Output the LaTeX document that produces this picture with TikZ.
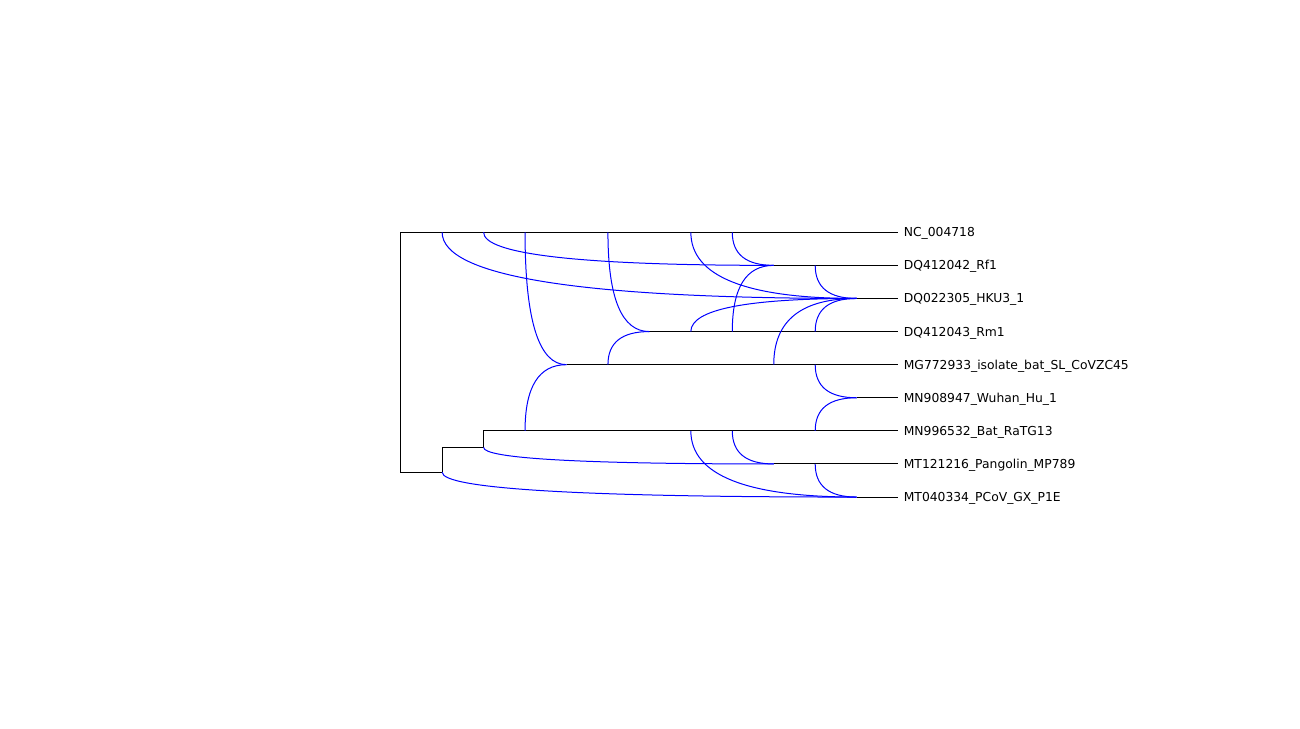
\documentclass[tikz,border=0pt]{standalone}
\usepackage{fontspec}
\setmainfont{DejaVu Sans}
\usepackage{tikz}
\usetikzlibrary{calc}

\begin{document}
\begin{tikzpicture}[
    x=31.09pt, y=-24.825pt,
    tree/.style={draw=black, line width=0.75pt},
    reti/.style={draw=blue, line width=0.75pt,
      to path={.. controls ($(\tikztostart)!0.667!(\tikztostart |- \tikztotarget)$)
        and ($(\tikztotarget)!0.667!(\tikztostart |- \tikztotarget)$) .. (\tikztotarget)}},
    taxon/.style={anchor=west, inner xsep=4.1pt, inner ysep=0pt, text height=6.74pt,
      text depth=0pt, font=\fontsize{9.25}{11}\selectfont}]
  \useasboundingbox (-9.667,-7.018) rectangle (21.696,15.006);
  % taxa
  \foreach \name/\lab [count=\r from 0] in {nc/NC\_004718, rf/DQ412042\_Rf1,
      hku/DQ022305\_HKU3\_1, rm/DQ412043\_Rm1, mg/MG772933\_isolate\_bat\_SL\_CoVZC45,
      wu/MN908947\_Wuhan\_Hu\_1, ratg/MN996532\_Bat\_RaTG13,
      pa/MT121216\_Pangolin\_MP789, pc/MT040334\_PCoV\_GX\_P1E}
    \node[taxon] (\name) at (12,\r) {\lab};
  % tree nodes
  \coordinate (root) at (0,3.625);
  \coordinate (v1) at (1,7.25);
  \coordinate (v2) at (2,6.5);
  % reticulation nodes
  \coordinate (hRf) at (9,1);
  \coordinate (hHKU) at (11,2);
  \coordinate (hRm) at (6,3);
  \coordinate (hMG) at (4,4);
  \coordinate (hWu) at (11,5);
  \coordinate (hPa) at (9,7);
  \coordinate (hPC) at (11,8);
  % branch points on the lines
  \foreach \c in {1,2,3,5,7,8} \coordinate (a\c) at (\c,0);
  \coordinate (b10) at (10,1);
  \foreach \c in {7,8,10} \coordinate (d\c) at (\c,3);
  \foreach \c in {5,9,10} \coordinate (e\c) at (\c,4);
  \foreach \c in {3,7,8,10} \coordinate (g\c) at (\c,6);
  \coordinate (p10) at (10,7);
  % tree edges
  \draw[tree] (root) |- (nc);
  \draw[tree] (root) |- (v1);
  \draw[tree] (v1) |- (v2);
  \draw[tree] (v2) |- (ratg);
  \foreach \h/\t in {hRf/rf, hHKU/hku, hRm/rm, hMG/mg, hWu/wu, hPa/pa, hPC/pc}
    \draw[tree] (\h) -- (\t);
  % reticulate edges
  \foreach \s/\t in {a1/hHKU, a2/hRf, a3/hMG, a5/hRm, a7/hHKU, a8/hRf, b10/hHKU,
      d7/hHKU, d8/hRf, d10/hHKU, e5/hRm, e9/hHKU, e10/hWu, g3/hMG, g7/hPC,
      g8/hPa, g10/hWu, v2/hPa, p10/hPC, v1/hPC}
    \draw[reti] (\s) to (\t);
\end{tikzpicture}
\end{document}
